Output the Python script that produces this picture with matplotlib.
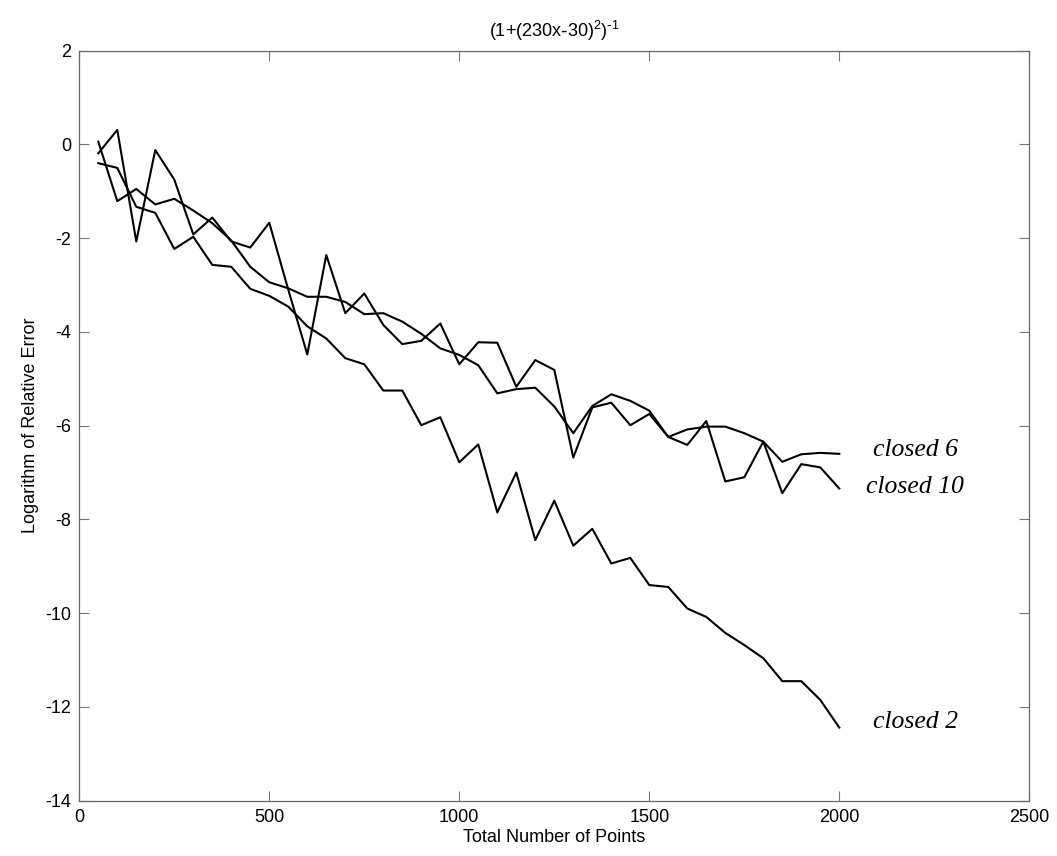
import numpy as np
import matplotlib
matplotlib.use("Agg")
import matplotlib.pyplot as plt

plt.rcParams['font.family'] = ['Liberation Sans', 'DejaVu Sans']
plt.rcParams['axes.unicode_minus'] = False

# numero total de pontos
pontos = list(range(50, 2001, 50))

closed2 = [-0.40, -0.50, -1.33, -1.46, -2.23, -1.97, -2.57, -2.61, -3.08, -3.23,
           -3.46, -3.88, -4.14, -4.56, -4.69, -5.25, -5.25, -5.99, -5.82, -6.78,
           -6.40, -7.85, -7.00, -8.44, -7.60, -8.56, -8.20, -8.94, -8.82, -9.40,
           -9.44, -9.90, -10.08, -10.42, -10.68, -10.96, -11.45, -11.45, -11.85, -12.44]

closed6 = [0.06, -1.21, -0.95, -1.28, -1.16, -1.41, -1.68, -2.05, -2.61, -2.94,
           -3.07, -3.25, -3.25, -3.36, -3.62, -3.60, -3.78, -4.04, -4.35, -4.49,
           -4.71, -5.31, -5.22, -5.19, -5.59, -6.16, -5.58, -5.33, -5.47, -5.68,
           -6.24, -6.08, -6.02, -6.02, -6.16, -6.34, -6.77, -6.61, -6.58, -6.60]

closed10 = [-0.19, 0.31, -2.07, -0.12, -0.75, -1.92, -1.56, -2.07, -2.20, -1.67,
            -3.10, -4.48, -2.36, -3.60, -3.18, -3.85, -4.26, -4.19, -3.82, -4.69,
            -4.22, -4.23, -5.17, -4.60, -4.81, -6.68, -5.61, -5.51, -5.99, -5.75,
            -6.24, -6.41, -5.90, -7.19, -7.10, -6.34, -7.44, -6.82, -6.89, -7.34]

# rotulos das curvas (texto, x, y)
rotulos = [("closed 6", 2200, -6.52), ("closed 10", 2200, -7.31), ("closed 2", 2200, -12.32)]

fig = plt.figure(figsize=(10.57, 8.56), dpi=100)
ax = fig.add_axes([0.075, 0.0646, 0.8988, 0.8762])

for serie in (closed2, closed6, closed10):
    ax.plot(pontos, serie, color='black', linewidth=1.5)

for texto, xt, yt in rotulos:
    ax.text(xt, yt, texto, fontsize=18.5, fontstyle='italic',
            family=['Liberation Serif', 'DejaVu Serif'], ha='center', va='center')

ax.set_xlim(0, 2500)
ax.set_ylim(-14, 2)
ax.set_xticks(np.arange(0, 2501, 500))
ax.set_yticks(np.arange(-14, 3, 2))

ax.tick_params(direction='in', length=7, width=0.8, color='#777777',
               top=True, right=True, labelsize=13, pad=6)
for lado in ax.spines.values():
    lado.set_color('#666666')
    lado.set_linewidth(0.9)

ax.set_xlabel('Total Number of Points', fontsize=13, labelpad=2)
ax.set_ylabel('Logarithm of Relative Error', fontsize=13, labelpad=4)
ax.set_title(r'$\mathregular{(1{+}(230x\text{-}30)^{2})^{\text{-}1}}$', fontsize=13, pad=10)

fig.savefig('out.png', dpi=100)
